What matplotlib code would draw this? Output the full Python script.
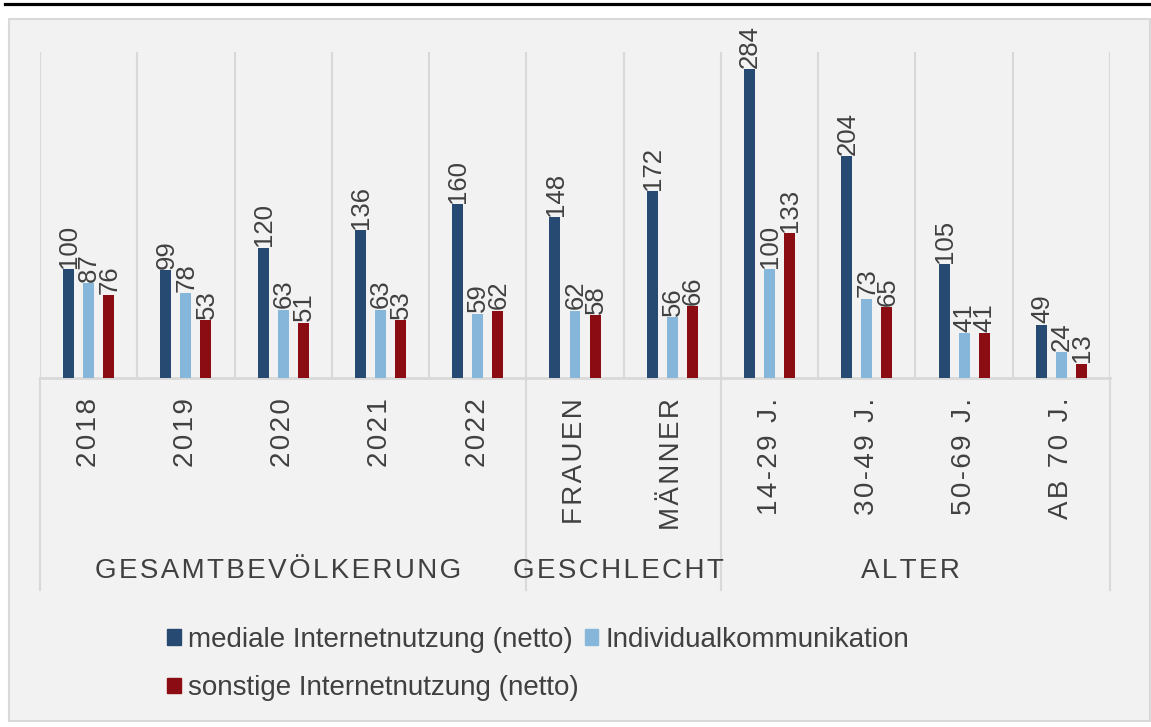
import numpy as np
import matplotlib
matplotlib.use("Agg")
import matplotlib.pyplot as plt
import matplotlib.transforms as mtransforms
from matplotlib.patches import Rectangle, Patch
from matplotlib.lines import Line2D

plt.rcParams['font.family'] = ['Liberation Sans', 'DejaVu Sans']

# data
categories = ['2018', '2019', '2020', '2021', '2022', 'FRAUEN', 'MÄNNER',
              '14-29 J.', '30-49 J.', '50-69 J.', 'AB 70 J.']
groups = ['GESAMTBEVÖLKERUNG', 'GESCHLECHT', 'ALTER']
group_sizes = [5, 2, 4]
series_names = ['mediale Internetnutzung (netto)', 'Individualkommunikation',
                'sonstige Internetnutzung (netto)']
medial = [100, 99, 120, 136, 160, 148, 172, 284, 204, 105, 49]
individual = [87, 78, 63, 63, 59, 62, 56, 100, 73, 41, 24]
sonstige = [76, 53, 51, 53, 62, 58, 66, 133, 65, 41, 13]

colors = ['#274A72', '#86B7DA', '#8C0C14']
txt = '#404040'
grid = '#D9D9D9'

W, H = 1151, 727
fig = plt.figure(figsize=(W / 100, H / 100), dpi=100)
fig.patch.set_facecolor('white')

# outer frame and top rule
fig.patches.append(Rectangle((9 / W, 1 - 721 / H), 1141 / W, 702 / H,
                             transform=fig.transFigure, facecolor='#F2F2F2',
                             edgecolor=grid, lw=1.5, zorder=-5))
fig.lines.append(Line2D([5 / W, 1], [1 - 3.5 / H] * 2, transform=fig.transFigure,
                        color='black', lw=2.3, zorder=-5))

ax = fig.add_axes([40 / W, 1 - 378 / H, 1070 / W, 326 / H])
ax.set_facecolor('none')
for s in ax.spines.values():
    s.set_visible(False)
ax.set_xticks([])
ax.set_yticks([])
ax.set_xlim(-0.5, len(categories) - 0.5)
ax.set_ylim(0, 300)

x = np.arange(len(categories))
bw = 0.113
step = 0.206
for k, vals in enumerate([medial, individual, sonstige]):
    pos = x + (k - 1) * step
    ax.bar(pos, vals, width=bw, color=colors[k], zorder=3)
    for p, v in zip(pos, vals):
        ax.annotate(str(v), (p, v), xytext=(0.5, 1), textcoords='offset points',
                    rotation=90, ha='center', va='bottom', fontsize=18.5,
                    color=txt, zorder=4)

# separators and baseline
ax.vlines(np.arange(len(categories) + 1) - 0.5, 0, 300, color=grid, lw=1.5, zorder=1)
ax.axhline(0, color=grid, lw=2, zorder=2, clip_on=False)
trans = mtransforms.blended_transform_factory(ax.transData, ax.transAxes)
bounds = np.concatenate([[0], np.cumsum(group_sizes)]) - 0.5
for b in bounds:
    ax.plot([b, b], [0, -0.65], transform=trans, color=grid, lw=1.5, clip_on=False)


def spaced(s):
    # letter spacing like the original axis labels (hair spaces)
    hs = '\u200a'
    return ' '.join(hs.join(w) for w in s.split(' ')).replace(' ', hs + ' ' + hs)


for i, c in enumerate(categories):
    ax.text(i, -0.061, spaced(c), transform=trans, rotation=90, ha='center',
            va='top', fontsize=20, color=txt)

for g, lo, hi in zip(groups, bounds[:-1], bounds[1:]):
    ax.text((lo + hi) / 2 - 0.05, -0.592, spaced(g), transform=trans, ha='center',
            va='center', fontsize=20, color=txt)

handles = [Patch(color=colors[0], label=series_names[0]),
           Patch(color=colors[2], label=series_names[2]),
           Patch(color=colors[1], label=series_names[1])]
fig.legend(handles=handles, ncol=2, loc='center', bbox_to_anchor=(538 / W, 1 - 664 / H),
           frameon=False, fontsize=20, labelcolor=txt, handlelength=0.5,
           handleheight=0.5, handletextpad=0.25, columnspacing=0.22,
           labelspacing=0.82)

fig.savefig('out.png', dpi=100)
